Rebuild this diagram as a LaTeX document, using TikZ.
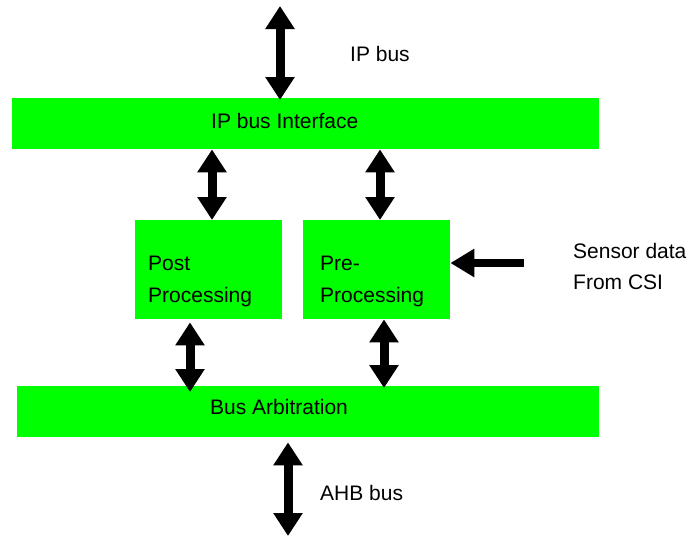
\documentclass[tikz,border=0pt]{standalone}
\usepackage{fontspec}
\setmainfont{Liberation Sans}
\usetikzlibrary{arrows.meta}
\definecolor{boxgreen}{HTML}{00FF00}
\tikzset{
 box/.style={fill=boxgreen, draw=none, anchor=north west, inner sep=0pt},
 lbl/.style={anchor=base west, inner sep=0pt, font=\fontsize{21}{25}\selectfont},
 dbl/.style={line width=9pt, {Triangle[length=23pt,width=28pt]}-{Triangle[length=23pt,width=28pt]}},
 sgl/.style={line width=8pt, -{Triangle[length=24pt,width=27pt]}},
}
\begin{document}
\begin{tikzpicture}[x=1pt,y=-1pt]
\useasboundingbox (0,0) rectangle (688,536);
% boxes
\node[box, minimum width=587pt, minimum height=51pt] (ipif) at (12,98) {};
\node[box, minimum width=147pt, minimum height=99pt] (post) at (135,220) {};
\node[box, minimum width=147pt, minimum height=99pt] (pre) at (303,220) {};
\node[box, minimum width=582pt, minimum height=51pt] (arb) at (17,386) {};
% labels
\node[lbl] (tipbus) at (350,61) {IP bus};
\node[lbl] (tipif) at (211,128) {IP bus Interface};
\node[lbl] (tpost1) at (148,270) {Post};
\node[lbl] (tpost2) at (148,302) {Processing};
\node[lbl] (tpre1) at (320,270) {Pre-};
\node[lbl] (tpre2) at (320,302) {Processing};
\node[lbl] (tsens1) at (573,258) {Sensor data};
\node[lbl] (tsens2) at (573,289) {From CSI};
\node[lbl] (tarb) at (210,414) {Bus Arbitration};
\node[lbl] (tahb) at (320,500) {AHB bus};
% connector coordinates
\coordinate (ipbus) at (280,6);
\coordinate (c1) at (212,0);
\coordinate (c2) at (380,0);
\coordinate (c3) at (190,0);
\coordinate (c4) at (384,0);
\coordinate (sens) at (524,263);
\coordinate (ahb) at (288,536);
% connectors
\draw[dbl] (ipbus) -- ([yshift=-2pt]ipif.north -| ipbus);
\draw[dbl] (ipif.south -| c1) -- (post.north -| c1);
\draw[dbl] (ipif.south -| c2) -- (pre.north -| c2);
\draw[dbl] ([yshift=-3pt]post.south -| c3) -- ([yshift=-6pt]arb.north -| c3);
\draw[dbl] (pre.south -| c4) -- ([yshift=-2pt]arb.north -| c4);
\draw[sgl] (sens) -- (pre.east |- sens);
\draw[dbl] ([yshift=-5pt]arb.south -| ahb) -- (ahb);
\end{tikzpicture}
\end{document}
